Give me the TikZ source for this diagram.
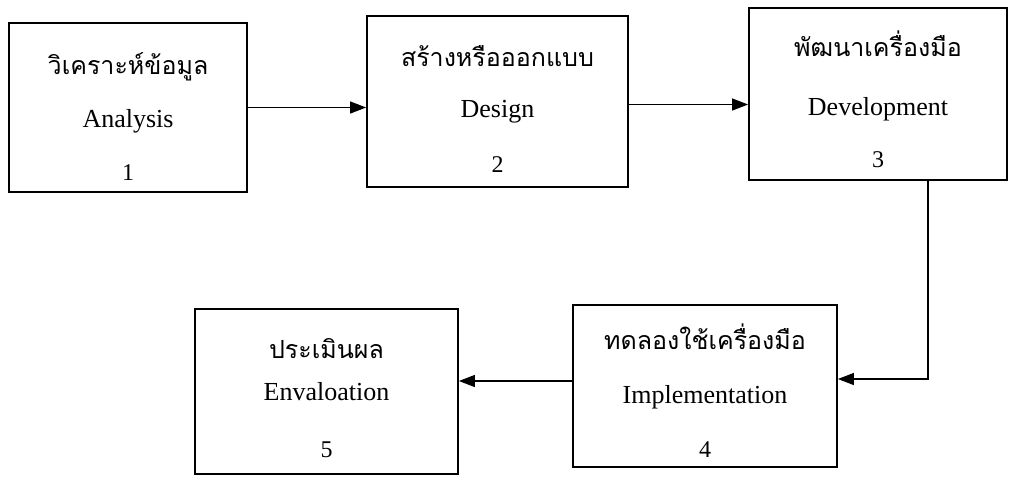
\documentclass[tikz,border=0pt]{standalone}
\usepackage{fontspec}
\setmainfont{Liberation Serif}
\newfontfamily\thaifont[Script=Thai]{Loma}
\usetikzlibrary{arrows.meta}
\tikzset{
  box/.style={draw=black, line width=1.8pt, rectangle, inner sep=0pt},
  thai/.style={anchor=base, inner sep=0pt, font=\thaifont\fontsize{25pt}{29pt}\selectfont},
  eng/.style={anchor=base, inner sep=0pt, font=\fontsize{26pt}{30pt}\selectfont},
  num/.style={anchor=base, inner sep=0pt, font=\fontsize{24pt}{28pt}\selectfont},
  conn/.style={line width=1.3pt, -{Triangle[length=16pt,width=12pt]}}
}
\begin{document}
\begin{tikzpicture}[x=1pt,y=-1pt]
\useasboundingbox (0,0) rectangle (1010,480);
% boxes
\node[box, minimum width=238pt, minimum height=169pt] (b1) at (128,107.5) {};
\node[box, minimum width=261pt, minimum height=171pt] (b2) at (497.5,101.5) {};
\node[box, minimum width=258pt, minimum height=172pt] (b3) at (878,94) {};
\node[box, minimum width=264pt, minimum height=162pt] (b4) at (705,386) {};
\node[box, minimum width=263pt, minimum height=165pt] (b5) at (326.5,391.5) {};
% texts
\node[thai] (t1) at (128,74) {วิเคราะห์ข้อมูล};
\node[eng]  (e1) at (128,127) {Analysis};
\node[num]  (n1) at (128,180) {1};
\node[thai] (t2) at (497.5,66) {สร้างหรือออกแบบ};
\node[eng]  (e2) at (497.5,117) {Design};
\node[num]  (n2) at (497.5,172) {2};
\node[thai] (t3) at (878,56) {พัฒนาเครื่องมือ};
\node[eng]  (e3) at (878,115) {Development};
\node[num]  (n3) at (878,167) {3};
\node[thai] (t4) at (705,349) {ทดลองใช้เครื่องมือ};
\node[eng]  (e4) at (705,403) {Implementation};
\node[num]  (n4) at (705,457) {4};
\node[thai] (t5) at (326.5,358) {ประเมินผล};
\node[eng]  (e5) at (326.5,400) {Envaloation};
\node[num]  (n5) at (326.5,457) {5};
% connectors
\draw[conn] (b1.east) -- (b1.east -| b2.west);
\draw[conn] ([yshift=-3pt]b2.east) -- ([yshift=-3pt]b2.east -| b3.west);
\draw[conn] ([xshift=50pt]b3.south) |- ([yshift=7pt]b4.east);
\draw[conn] ([yshift=5pt]b4.west) -- ([yshift=5pt]b4.west -| b5.east);
\end{tikzpicture}
\end{document}
